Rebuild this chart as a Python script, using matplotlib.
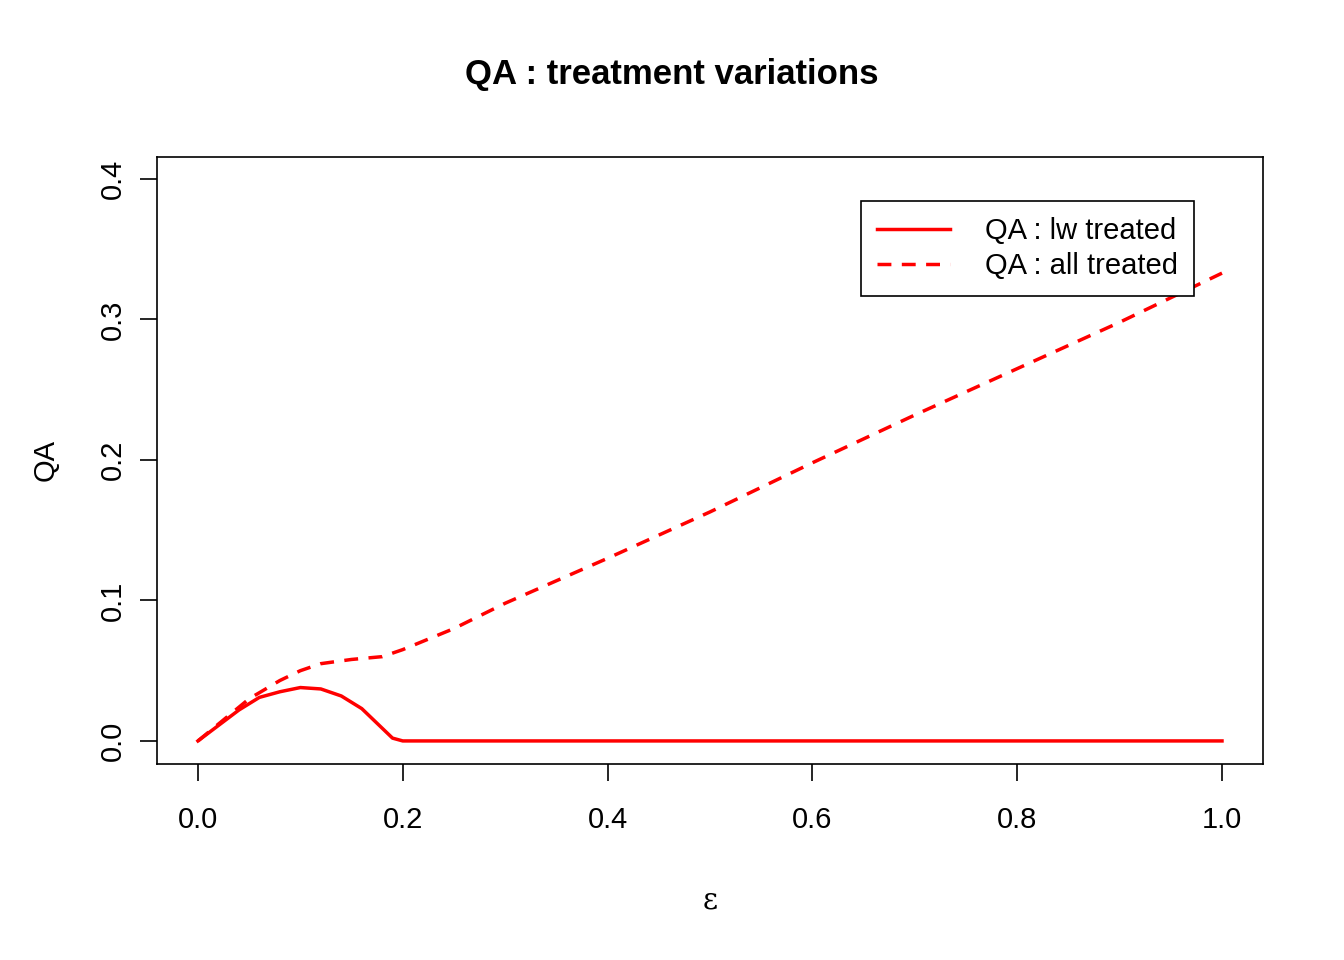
import matplotlib
matplotlib.use("Agg")
import matplotlib.pyplot as plt

plt.rcParams['font.family'] = ['Liberation Sans', 'DejaVu Sans']

# dashed curve: all treated
x_all = [0.0, 0.02, 0.05, 0.08, 0.1, 0.12, 0.15, 0.18, 0.2, 0.25, 0.3, 0.4, 0.5, 0.6, 0.7, 0.8, 0.9, 1.0]
y_all = [0.0, 0.012, 0.03, 0.043, 0.05, 0.055, 0.058, 0.06, 0.065, 0.08, 0.098, 0.13, 0.163, 0.198, 0.232, 0.265, 0.298, 0.333]
# solid curve: lw treated
x_lw = [0.0, 0.02, 0.04, 0.06, 0.08, 0.1, 0.12, 0.14, 0.16, 0.18, 0.19, 0.2, 1.0]
y_lw = [0.0, 0.011, 0.022, 0.031, 0.035, 0.038, 0.037, 0.032, 0.023, 0.009, 0.002, 0.0, 0.0]

fig = plt.figure(figsize=(13.44, 9.6), dpi=100)
ax = fig.add_axes([0.1168, 0.2042, 0.8229, 0.6323])
ax.plot(x_lw, y_lw, color='red', lw=2.5, label='QA : lw treated')
ax.plot(x_all, y_all, color='red', lw=2.5, ls=(0, (4, 3)), label='QA : all treated')
ax.set_xlim(-0.04, 1.04)
ax.set_ylim(-0.0164, 0.4157)
ax.set_xticks([0, 0.2, 0.4, 0.6, 0.8, 1.0])
ax.set_xticklabels(['0.0', '0.2', '0.4', '0.6', '0.8', '1.0'])
ax.set_yticks([0, 0.1, 0.2, 0.3, 0.4])
ax.set_yticklabels(['0.0', '0.1', '0.2', '0.3', '0.4'], rotation=90, va='center')
ax.tick_params(labelsize=21, length=12, width=1.2)
ax.tick_params(axis='x', pad=30 - 12)
ax.tick_params(axis='y', pad=22 - 12)
for s in ax.spines.values():
    s.set_linewidth(1.2)
ax.set_xlabel('ε', fontsize=21, family='DejaVu Serif', labelpad=38)
ax.set_ylabel('QA', fontsize=21, labelpad=28)
fig.suptitle('QA : treatment variations', fontsize=25, fontweight='bold', y=0.94)
leg = ax.legend(loc='upper right', bbox_to_anchor=(0.951, 0.952), fontsize=21,
                fancybox=False, framealpha=1, edgecolor='black', handlelength=2.5,
                borderpad=0.55, handletextpad=1.2, labelspacing=0.25)
leg.get_frame().set_linewidth(1.2)
fig.savefig('out.png', dpi=100)
